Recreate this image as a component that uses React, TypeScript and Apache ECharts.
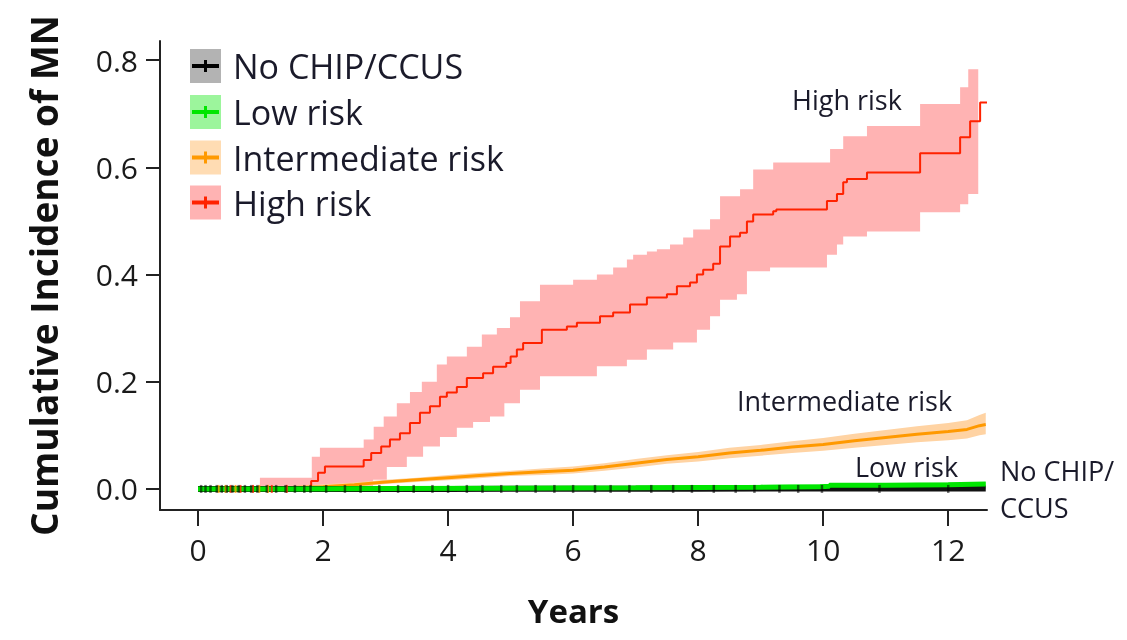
import React, { useEffect, useRef } from "react";
import * as echarts from "echarts";

const FONT = "'Open Sans', 'Noto Sans', sans-serif";

const xTicks = [0, 2, 4, 6, 8, 10, 12];
const yTicks = [0, 0.2, 0.4, 0.6, 0.8];

// High risk cumulative incidence (step)
const highLine: number[][] = [
  [0, 0], [1.81, 0.015], [1.92, 0.03], [2.03, 0.042], [2.65, 0.054], [2.77, 0.067],
  [2.93, 0.079], [3.07, 0.092], [3.23, 0.104], [3.39, 0.123], [3.55, 0.142], [3.71, 0.154],
  [3.87, 0.172], [3.98, 0.18], [4.14, 0.19], [4.3, 0.207], [4.56, 0.216], [4.72, 0.228],
  [4.93, 0.235], [5.0, 0.247], [5.1, 0.26], [5.2, 0.272], [5.5, 0.297], [5.9, 0.303],
  [6.06, 0.31], [6.43, 0.322], [6.64, 0.329], [6.91, 0.344], [7.18, 0.357], [7.5, 0.363],
  [7.66, 0.378], [7.87, 0.385], [7.98, 0.4], [8.08, 0.409], [8.24, 0.42], [8.35, 0.452],
  [8.51, 0.471], [8.67, 0.478], [8.78, 0.499], [8.88, 0.512], [9.2, 0.518], [9.25, 0.521],
  [10.06, 0.537], [10.22, 0.55], [10.32, 0.572], [10.38, 0.578], [10.7, 0.59], [11.55, 0.626],
  [12.19, 0.656], [12.35, 0.686], [12.51, 0.721], [12.62, 0.721],
];
const highUpper: number[][] = [
  [0, 0], [0.99, 0.021], [1.82, 0.06], [1.95, 0.077], [2.65, 0.092], [2.81, 0.116],
  [2.97, 0.135], [3.18, 0.16], [3.39, 0.181], [3.58, 0.2], [3.82, 0.232], [3.98, 0.247],
  [4.3, 0.265], [4.54, 0.288], [4.78, 0.3], [4.99, 0.32], [5.15, 0.35], [5.47, 0.381],
  [6.0, 0.39], [6.38, 0.4], [6.64, 0.413], [6.86, 0.428], [6.96, 0.437], [7.18, 0.443],
  [7.34, 0.447], [7.55, 0.456], [7.76, 0.469], [7.92, 0.484], [8.19, 0.503], [8.35, 0.546],
  [8.67, 0.559], [8.88, 0.596], [9.2, 0.609], [10.11, 0.634], [10.32, 0.658], [10.7, 0.677],
  [11.55, 0.718], [12.19, 0.749], [12.32, 0.783], [12.48, 0.783],
];
const highLower: number[][] = [
  [0, 0], [2.8, 0.017], [3.02, 0.041], [3.34, 0.06], [3.6, 0.079], [3.87, 0.097],
  [4.14, 0.114], [4.4, 0.125], [4.67, 0.135], [4.9, 0.16], [5.15, 0.185], [5.47, 0.21],
  [6.38, 0.229], [6.86, 0.241], [7.18, 0.26], [7.6, 0.273], [7.98, 0.297], [8.19, 0.322],
  [8.35, 0.353], [8.62, 0.363], [8.78, 0.406], [9.15, 0.413], [10.06, 0.437], [10.22, 0.456],
  [10.32, 0.471], [10.7, 0.48], [11.55, 0.516], [12.19, 0.531], [12.32, 0.55], [12.48, 0.55],
];

// Intermediate risk
const intLine: number[][] = [
  [0, 0], [0.6, 0.001], [1.3, 0.002], [2.0, 0.004], [2.5, 0.008], [3.0, 0.013], [3.5, 0.017],
  [4.0, 0.021], [4.5, 0.025], [5.0, 0.029], [5.5, 0.032], [6.0, 0.035], [6.5, 0.041],
  [7.0, 0.048], [7.5, 0.055], [8.0, 0.06], [8.5, 0.067], [9.0, 0.072], [9.5, 0.078],
  [10.0, 0.083], [10.5, 0.09], [11.0, 0.096], [11.5, 0.102], [12.0, 0.107], [12.3, 0.111],
  [12.5, 0.118], [12.6, 0.12],
];
const intUpper: number[][] = [
  [0, 0], [0.5, 0.003], [1.5, 0.005], [2.5, 0.012], [3.0, 0.017], [3.5, 0.021], [4.0, 0.026],
  [4.5, 0.03], [5.0, 0.034], [5.5, 0.038], [6.0, 0.042], [6.5, 0.048], [7.0, 0.056],
  [7.5, 0.063], [8.0, 0.069], [8.5, 0.077], [9.0, 0.082], [9.5, 0.089], [10.0, 0.095],
  [10.5, 0.103], [11.0, 0.11], [11.5, 0.117], [12.0, 0.123], [12.3, 0.128], [12.5, 0.138],
  [12.6, 0.142],
];
const intLower: number[][] = [
  [0, 0], [2.5, 0.004], [3.0, 0.009], [3.5, 0.013], [4.0, 0.016], [4.5, 0.02], [5.0, 0.024],
  [5.5, 0.026], [6.0, 0.029], [6.5, 0.034], [7.0, 0.04], [7.5, 0.047], [8.0, 0.051],
  [8.5, 0.057], [9.0, 0.062], [9.5, 0.067], [10.0, 0.071], [10.5, 0.077], [11.0, 0.082],
  [11.5, 0.087], [12.0, 0.091], [12.3, 0.094], [12.5, 0.1], [12.6, 0.102],
];

// Low risk
const lowLine: number[][] = [
  [0, 0], [1.5, 0.001], [3, 0.002], [7, 0.003], [9, 0.004], [9.95, 0.005], [10.1, 0.007],
  [11, 0.008], [12, 0.009], [12.6, 0.009],
];
const lowUpper: number[][] = [
  [0, 0], [1, 0.003], [4, 0.004], [8, 0.006], [10, 0.009], [12.6, 0.013],
];
const lowLower: number[][] = [[0, 0], [12.6, 0]];

// No CHIP/CCUS
const noneLine: number[][] = [[0, 0], [4, 0.0005], [8, 0.001], [12.6, 0.0015]];

// censoring marks on the baseline
const noneCensor = [
  0.05, 0.12, 0.2, 0.3, 0.38, 0.46, 0.55, 0.65, 0.75, 0.85, 0.95, 1.1, 1.25, 1.4, 1.55, 1.7,
  1.8, 2.05, 2.35, 2.6, 2.9, 3.2, 3.45, 3.75, 4.0, 4.3, 4.55, 4.85, 5.1, 5.4, 5.7, 6.0, 6.35,
  6.6, 6.9, 7.25, 7.6, 7.9, 8.25, 8.6, 8.9, 9.3, 9.6, 9.98, 10.9, 12.0,
];
const highCensor = [0.52, 0.68, 0.88, 1.18, 1.42];
const intCensor = [0.33, 0.44, 0.6, 0.98, 1.12];

const legendNames = ["No CHIP/CCUS", "Low risk", "Intermediate risk", "High risk"];
const legendLineColors = ["#000000", "#00e600", "#ff9900", "#ff2200"];
const legendFillColors = ["#b3b3b3", "#9cf59c", "#ffdcb3", "#ffb3b3"];

function bandPoints(upper: number[][], lower: number[][], api: any, step: boolean) {
  const pts: number[][] = [];
  for (let i = 0; i < upper.length; i++) {
    const [x, y] = upper[i];
    if (step && i > 0) pts.push(api.coord([x, upper[i - 1][1]]));
    pts.push(api.coord([x, y]));
  }
  for (let i = lower.length - 1; i >= 0; i--) {
    const [x, y] = lower[i];
    pts.push(api.coord([x, y]));
    if (step && i > 0) pts.push(api.coord([x, lower[i - 1][1]]));
  }
  return pts;
}

function bandSeries(upper: number[][], lower: number[][], color: string, step: boolean) {
  return {
    type: "custom",
    coordinateSystem: "cartesian2d",
    data: [[0, 0]],
    encode: { x: 0, y: 1 },
    silent: true,
    renderItem: (_p: any, api: any) => ({
      type: "polygon",
      shape: { points: bandPoints(upper, lower, api, step) },
      style: { fill: color },
    }),
  };
}

function censorSeries(xs: number[], color: string, size: number[]) {
  return {
    type: "scatter",
    data: xs.map((x) => [x, 0]),
    symbol: "rect",
    symbolSize: size,
    itemStyle: { color },
    silent: true,
    z: 4,
  };
}

export default function App() {
  const ref = useRef<HTMLDivElement>(null);
  useEffect(() => {
    if (!ref.current) return;
    const chart = echarts.init(ref.current, undefined, { renderer: "svg" });

    const legendGraphics: any[] = [];
    const legendCenters = [66, 112, 157.5, 202.5];
    legendNames.forEach((name, i) => {
      const cy = legendCenters[i];
      legendGraphics.push(
        { type: "rect", shape: { x: 190, y: cy - 17, width: 31, height: 34 }, style: { fill: legendFillColors[i] }, z: 100 },
        { type: "line", shape: { x1: 192, y1: cy, x2: 219, y2: cy }, style: { stroke: legendLineColors[i], lineWidth: 4 }, z: 101 },
        { type: "line", shape: { x1: 205.5, y1: cy - 6, x2: 205.5, y2: cy + 6 }, style: { stroke: legendLineColors[i], lineWidth: 3 }, z: 101 },
        {
          type: "text", x: 233, y: cy, z: 101,
          style: { text: name, fill: "#1a1a2a", font: `34px ${FONT}`, fontSize: 34, fontFamily: FONT, verticalAlign: "middle", textVerticalAlign: "middle", align: "left", textAlign: "left" },
        }
      );
    });

    const annot = (text: string, x: number, y: number) => ({
      type: "text", x, y, z: 101,
      style: { text, fill: "#1a1a2a", font: `27px ${FONT}`, fontSize: 27, fontFamily: FONT, verticalAlign: "middle", textVerticalAlign: "middle", align: "left", textAlign: "left" },
    });

    const option: any = {
      animation: false,
      grid: { left: 160, top: 41, right: 140, bottom: 130, containLabel: false },
      xAxis: {
        type: "value",
        min: -0.608,
        max: 12.62,
        name: "Years",
        nameLocation: "middle",
        nameGap: 84,
        nameTextStyle: { fontFamily: FONT, fontWeight: "bold", fontSize: 33, color: "#111" },
        axisLine: { show: true, onZero: false, lineStyle: { color: "#222", width: 2 } },
        axisTick: { show: true, customValues: xTicks, length: 16, lineStyle: { color: "#222", width: 2 } },
        axisLabel: { customValues: xTicks, margin: 24, fontSize: 30, fontFamily: FONT, color: "#1a1a1a", formatter: (v: number) => String(v) },
        splitLine: { show: false },
      },
      yAxis: {
        type: "value",
        min: -0.0393,
        max: 0.8355,
        name: "Cumulative Incidence of MN",
        nameLocation: "middle",
        nameGap: 98,
        nameTextStyle: { fontFamily: FONT, fontWeight: "bold", fontSize: 37, color: "#111" },
        axisLine: { show: true, onZero: false, lineStyle: { color: "#222", width: 2 } },
        axisTick: { show: true, customValues: yTicks, length: 14, lineStyle: { color: "#222", width: 2 } },
        axisLabel: { customValues: yTicks, margin: 22, fontSize: 30, fontFamily: FONT, color: "#1a1a1a", formatter: (v: number) => v.toFixed(1) },
        splitLine: { show: false },
      },
      series: [
        bandSeries(highUpper, highLower, "#ffb3b3", true),
        bandSeries(intUpper, intLower, "#ffd3a3", false),
        bandSeries(lowUpper, lowLower, "#9cf59c", false),
        { type: "line", data: highLine, step: "end", showSymbol: false, silent: true, lineStyle: { color: "#ff2200", width: 2 }, z: 3 },
        { type: "line", data: intLine, showSymbol: false, silent: true, lineStyle: { color: "#ff9900", width: 3 }, z: 3 },
        { type: "line", data: noneLine, step: "end", showSymbol: false, silent: true, lineStyle: { color: "#111", width: 6 }, z: 3 },
        { type: "line", data: lowLine, step: "end", showSymbol: false, silent: true, lineStyle: { color: "#00e600", width: 5 }, z: 3 },
        censorSeries(highCensor, "#ff2200", [2, 8]),
        censorSeries(intCensor, "#ff9900", [2, 8]),
        censorSeries(noneCensor, "rgba(0,0,0,0.7)", [2.5, 8]),
      ],
      graphic: [
        ...legendGraphics,
        annot("High risk", 792, 99),
        annot("Intermediate risk", 737, 400),
        annot("Low risk", 855, 466),
        annot("No CHIP/", 1000, 470),
        annot("CCUS", 1000, 507),
      ],
    };
    chart.setOption(option);
    return () => chart.dispose();
  }, []);
  return <div ref={ref} style={{ position: "fixed", left: 0, top: 0, width: 1127, height: 640 }} />;
}
